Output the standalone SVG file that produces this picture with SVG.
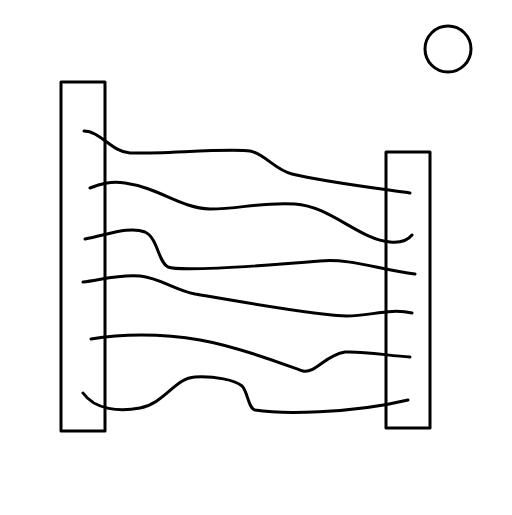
<svg xmlns="http://www.w3.org/2000/svg" width="512" height="515" viewBox="0 0 512 515">
<style>
.s{fill:none;stroke:#000;stroke-width:3;stroke-linecap:round;stroke-linejoin:round}
</style>
<rect width="512" height="515" fill="#fff"/>
<g id="left-post"><rect class="s" x="61" y="82" width="44" height="349"/></g>
<g id="right-post"><rect class="s" x="386" y="152" width="44" height="276"/></g>
<g id="sun"><circle class="s" cx="448" cy="49" r="23"/></g>
<g id="strands">
<path class="s" d="M84,131 C100,131 112,152 130,153 C160,154 230,148 250,151 C265,154 275,170 292,174 C320,181 360,186 410,193"/>
<path class="s" d="M90,188 C100,184 110,181 125,183 C160,188 180,208 210,209 C240,209 260,202 295,204 C330,206 360,240 390,242 C400,243 408,240 412,235"/>
<path class="s" d="M85,239 C110,234 130,226 145,232 C158,238 158,262 168,267 C180,272 260,266 320,261 C350,258 380,270 415,274"/>
<path class="s" d="M83,282 C100,280 120,274 140,276 C160,278 175,290 195,294 C230,300 320,316 347,316 C370,316 390,308 412,313"/>
<path class="s" d="M91,339 C120,334 160,333 200,340 C240,347 280,363 303,371 C315,374 325,355 345,352 C365,351 390,356 410,357"/>
<path class="s" d="M83,393 C95,410 120,412 140,408 C165,403 175,378 195,377 C215,376 235,380 242,386 C248,392 248,408 255,410 C280,414 350,414 408,400"/>
</g>
</svg>
